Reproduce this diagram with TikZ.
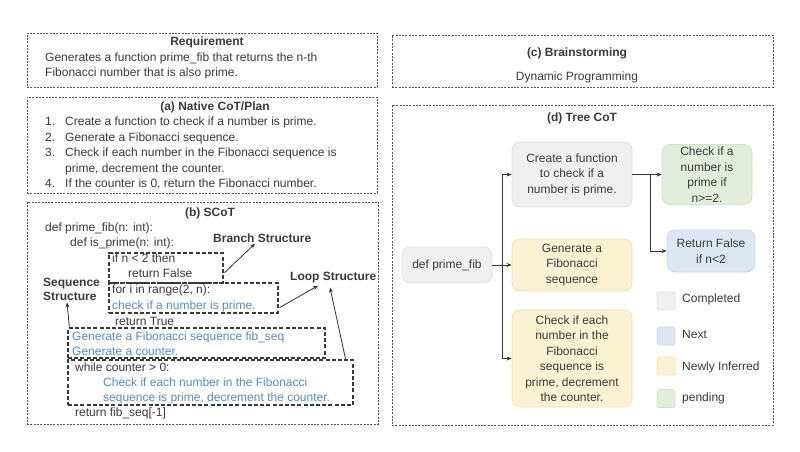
\documentclass[tikz,border=0pt]{standalone}
\usepackage{fontspec}
\setmainfont{Liberation Sans}
\usetikzlibrary{arrows.meta,calc}
\definecolor{txt}{HTML}{3A3A3A}
\definecolor{bluetxt}{HTML}{5A8AC0}
\definecolor{obox}{HTML}{555555}
\definecolor{grayfill}{HTML}{F0F0F0}
\definecolor{graydraw}{HTML}{E2E2E2}
\definecolor{greenfill}{HTML}{E3EEDA}
\definecolor{greendraw}{HTML}{D4E4C6}
\definecolor{bluefill}{HTML}{DDE7F3}
\definecolor{bluedraw}{HTML}{CCDAEC}
\definecolor{yellowfill}{HTML}{FDF1D3}
\definecolor{yellowdraw}{HTML}{F5E2B2}
\definecolor{arrc}{HTML}{333333}
\tikzset{
  outerbox/.style={draw=obox, line width=0.6pt, dash pattern=on 2pt off 1.3pt, inner sep=0pt},
  codebox/.style={draw=txt, line width=1.2pt, dash pattern=on 4pt off 2.2pt, inner sep=0pt},
  lt/.style={anchor=west, inner sep=0pt, text=txt, text height=8.6pt, text depth=2.6pt},
  bt/.style={lt, text=bluetxt},
  ttl/.style={inner sep=0pt, text=txt, font=\fontsize{12}{15}\selectfont\bfseries},
  tn/.style={rounded corners=8pt, align=center, inner sep=0pt, text=txt, line width=0.8pt, font=\fontsize{12}{15.5}\selectfont},
  gnode/.style={tn, fill=grayfill, draw=graydraw},
  grnode/.style={tn, fill=greenfill, draw=greendraw},
  blnode/.style={tn, fill=bluefill, draw=bluedraw},
  ynode/.style={tn, fill=yellowfill, draw=yellowdraw},
  legsq/.style={rounded corners=2pt, minimum width=18pt, minimum height=18pt, inner sep=0pt, line width=0.6pt},
  arr/.style={-{Stealth[length=5pt,width=4pt]}, line width=0.8pt, draw=arrc},
}
\begin{document}
\begin{tikzpicture}[x=1pt, y=-1pt, font=\fontsize{12}{15}\selectfont]
\useasboundingbox (0,0) rectangle (800,451);
\fill[white] (0,0) rectangle (800,451);

% ---------- outer boxes ----------
\node[outerbox, minimum width=350pt, minimum height=54pt] (req) at (202,60) {};
\node[outerbox, minimum width=350pt, minimum height=96pt] (cot) at (202,145) {};
\node[outerbox, minimum width=351pt, minimum height=222pt] (scot) at (202.5,313) {};
\node[outerbox, minimum width=381pt, minimum height=52pt] (brain) at (582.5,61) {};
\node[outerbox, minimum width=381pt, minimum height=320pt] (tree) at (582.5,265) {};

% ---------- Requirement ----------
\node[ttl] (reqt) at (207,42) {Requirement};
\node[lt] (req1) at (45,58) {Generates a function prime\_fib that returns the n-th};
\node[lt] (req2) at (45,73) {Fibonacci number that is also prime.};

% ---------- (a) Native CoT ----------
\node[ttl] (cott) at (215,107) {(a) Native CoT/Plan};
\node[lt] (n1) at (45,122) {1.};
\node[lt] (a1) at (65,122) {Create a function to check if a number is prime.};
\node[lt] (n2) at (45,138) {2.};
\node[lt] (a2) at (65,138) {Generate a Fibonacci sequence.};
\node[lt] (n3) at (45,153) {3.};
\node[lt] (a3) at (65,153) {Check if each number in the Fibonacci sequence is};
\node[lt] (a3b) at (65,169) {prime, decrement the counter.};
\node[lt] (n4) at (45,184) {4.};
\node[lt] (a4) at (65,184) {If the counter is 0, return the Fibonacci number.};

% ---------- (b) SCoT ----------
\node[ttl] (scott) at (210,213) {(b) SCoT};
\node[lt] (s1) at (45,228) {def prime\_fib(n: int):};
\node[lt] (s2) at (70,243) {def is\_prime(n: int):};
\node[lt] (s3) at (112,259) {if n < 2 then};
\node[lt] (s4) at (128,274) {return False};
\node[lt] (s5) at (112,290) {for i in range(2, n):};
\node[bt] (s6) at (112,306) {check if a number is prime.};
\node[lt] (s7) at (115,322) {return True};
\node[bt] (s8) at (72,337) {Generate a Fibonacci sequence fib\_seq};
\node[bt] (s9) at (72,352) {Generate a counter.};
\node[lt] (s10) at (75,368) {while counter > 0:};
\node[bt] (s11) at (103,383) {Check if each number in the Fibonacci};
\node[bt] (s12) at (103,398) {sequence is prime, decrement the counter.};
\node[lt] (s13) at (75,413) {return fib\_seq[-1]};

\node[codebox, minimum width=114pt, minimum height=30pt] (bb) at (166,268) {};
\node[codebox, minimum width=169pt, minimum height=30pt] (lb) at (193.5,298) {};
\node[codebox, minimum width=257pt, minimum height=30pt] (sb) at (196.5,343) {};
\node[codebox, minimum width=285pt, minimum height=45pt] (wb) at (210.5,382.5) {};

\node[ttl, anchor=west] (brs) at (213,238) {Branch Structure};
\node[ttl, anchor=west] (lps) at (290,278) {Loop Structure};
\node[ttl, anchor=west, align=left, font=\fontsize{12}{14}\selectfont\bfseries] (sqs) at (43,289) {Sequence\\Structure};

\draw[arr] ($(bb.south east)+(1,-11)$) -- ([xshift=42pt,yshift=-1pt]brs.south west);
\draw[arr] ($(lb.south east)+(1,-6)$) -- ([xshift=28pt,yshift=-2pt]lps.south west);
\draw[arr] ([xshift=2pt]sb.north west) -- ([xshift=24pt,yshift=-2pt]sqs.south west);
\draw[arr] ([xshift=-8pt]wb.north east) -- ([xshift=40pt,yshift=-4pt]lps.south west);

% ---------- (c) Brainstorming ----------
\node[ttl] (brt) at (577,53) {(c) Brainstorming};
\node[lt, anchor=center] (dp) at (577,77) {Dynamic Programming};

% ---------- (d) Tree CoT ----------
\node[ttl] (treet) at (582,118) {(d) Tree CoT};
\node[gnode, minimum width=90pt, minimum height=36pt] (start) at (447,265) {def prime\_fib};
\node[gnode, minimum width=120pt, minimum height=65pt] (c1) at (572,174.5) {Create a function\\to check if a\\number is prime.};
\node[ynode, minimum width=120pt, minimum height=52pt] (c2) at (572,265) {Generate a\\Fibonacci\\sequence};
\node[ynode, minimum width=120pt, minimum height=97pt] (c3) at (572,358.5) {Check if each\\number in the\\Fibonacci\\sequence is\\prime, decrement\\the counter.};
\node[grnode, minimum width=90pt, minimum height=60pt] (g1) at (707,174.5) {Check if a\\number is\\prime if\\n>=2.};
\node[blnode, minimum width=88pt, minimum height=42pt] (b1) at (711,251) {Return False\\if n<2};

\coordinate (tr) at (502,265);
\coordinate (br) at (650,174.5);
\draw[arr] (start.east) -- (c2.west);
\draw[arr] (tr) |- (c1.west);
\draw[arr] (tr) |- (c3.west);
\draw[arr] (c1.east) -- (g1.west);
\draw[arr] (br) |- (b1.west);

% legend
\node[legsq, fill=grayfill, draw=graydraw] (l1) at (666,301) {};
\node[legsq, fill=bluefill, draw=bluedraw] (l2) at (666,336) {};
\node[legsq, fill=yellowfill, draw=yellowdraw] (l3) at (666,366) {};
\node[legsq, fill=greenfill, draw=greendraw] (l4) at (666,398.5) {};
\node[lt] (lt1) at (682,299) {Completed};
\node[lt] (lt2) at (682,335) {Next};
\node[lt] (lt3) at (682,367) {Newly Inferred};
\node[lt] (lt4) at (682,398) {pending};
\end{tikzpicture}
\end{document}
